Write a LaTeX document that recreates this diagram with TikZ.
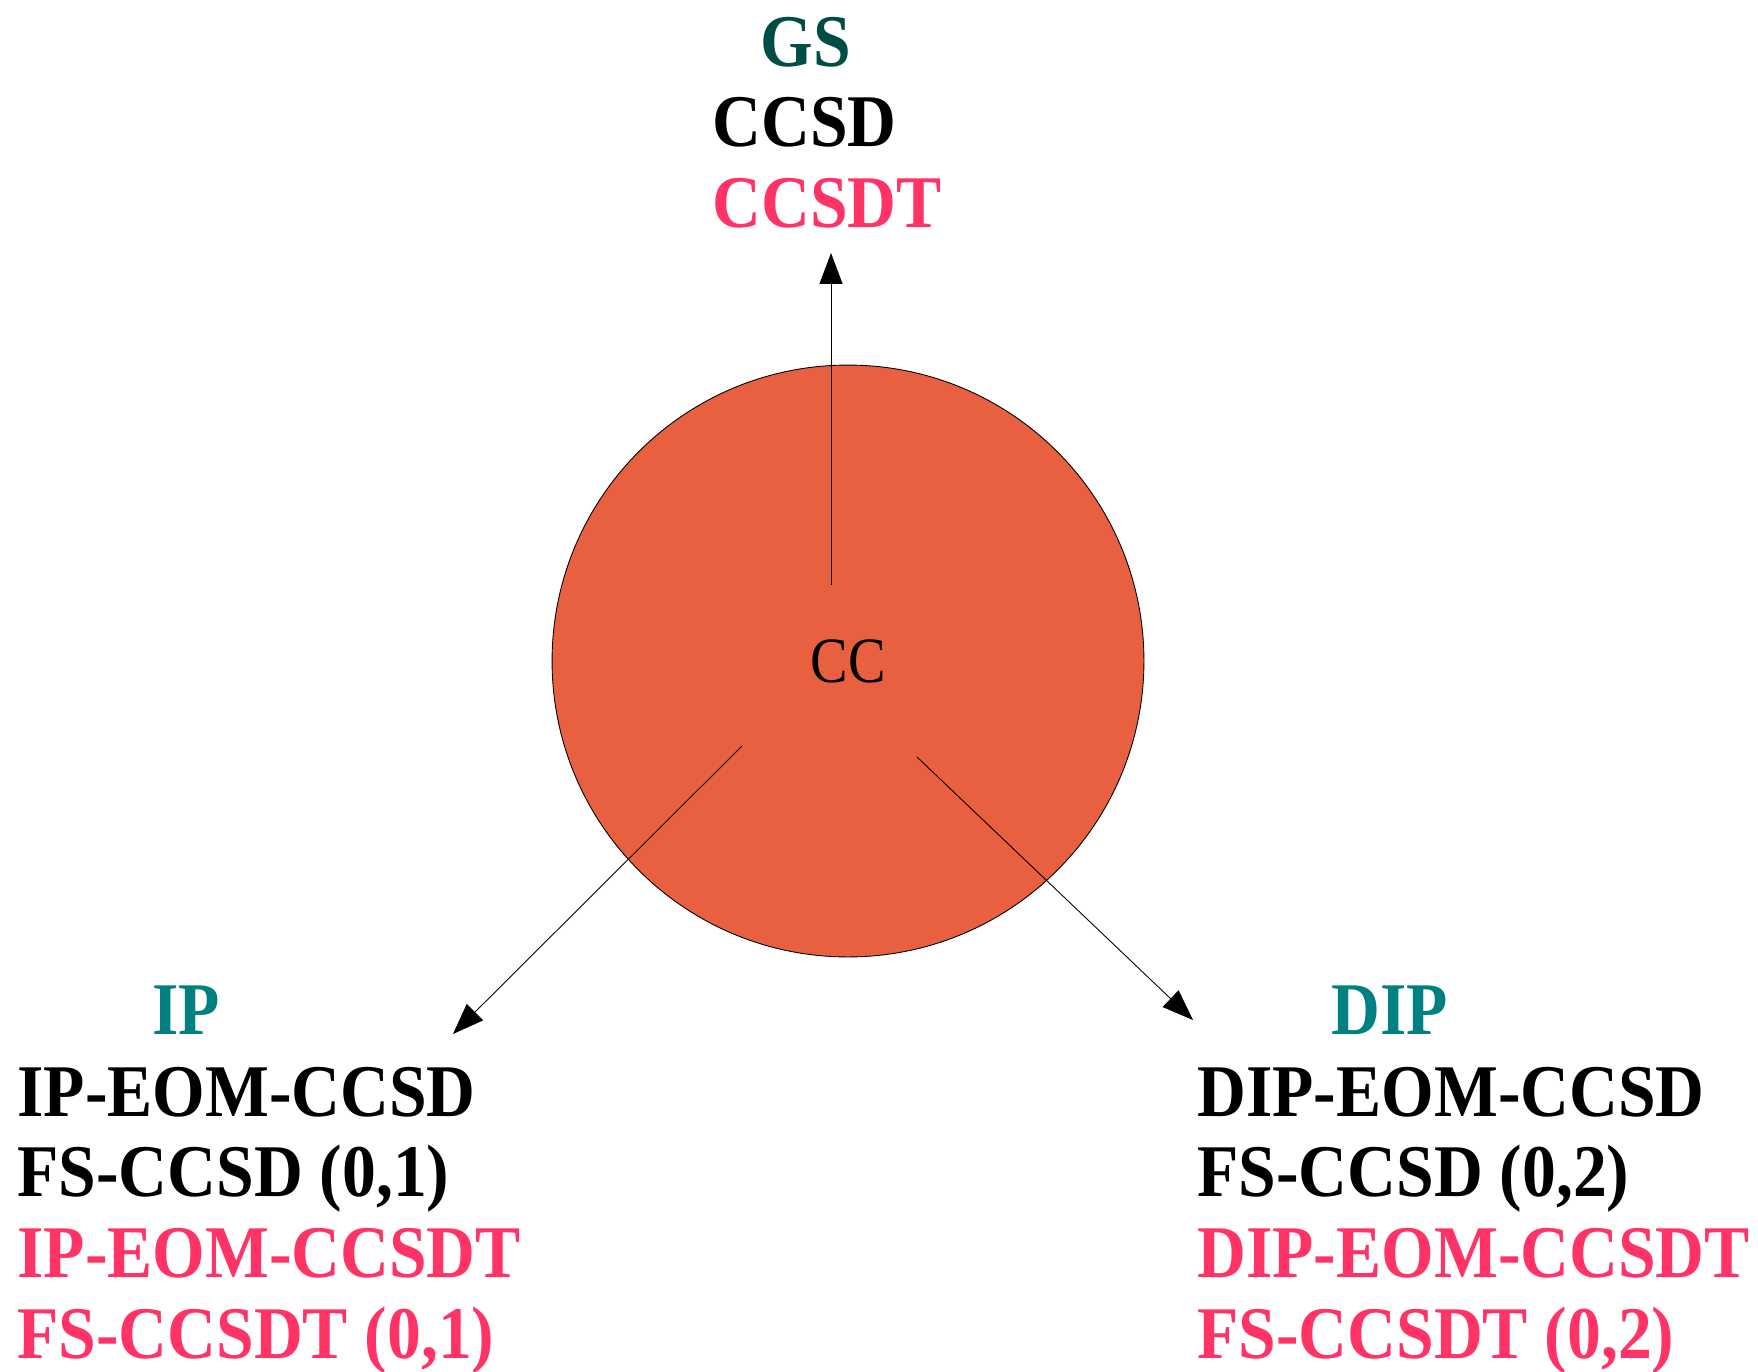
\documentclass[tikz,border=0pt]{standalone}
\usepackage{fontspec}
\setmainfont{Liberation Serif}[FakeStretch=0.91]
\newfontfamily\ccfont{Liberation Serif}[FakeStretch=0.87]
\usepackage{tikz}
\usetikzlibrary{arrows.meta,positioning}
\definecolor{ccfill}{RGB}{233,96,64}
\definecolor{gsteal}{RGB}{0,77,72}
\definecolor{ipteal}{RGB}{0,128,128}
\definecolor{triplepink}{RGB}{255,51,102}
\tikzstyle{every node}=[inner sep=0pt]
\tikzstyle{cc}=[circle,
                draw=black,
                fill=ccfill,
                minimum size=11.84cm,
                font=\ccfont\fontsize{36.8}{42}\selectfont]
\tikzstyle{method}=[anchor=base west,
                    font=\bfseries\fontsize{42.3}{50}\selectfont]
\tikzstyle{header}=[method,
                    anchor=base]
\tikzstyle{doubles}=[method,text=black]
\tikzstyle{triples}=[method,text=triplepink]

\begin{document}
\begin{tikzpicture}[x=0.02cm,y=-0.02cm,line width=.5pt,>={Triangle[length=6.2mm,width=4.6mm]}]
\useasboundingbox (0,0) rectangle (1758,1372);
\node (CC) [cc] at (848,661) {CC};
% ground state
\node (GS)   [header,text=gsteal] at (806,67) {GS};
\node (GS_1) [doubles] at (712,147) {CCSD};
\node (GS_2) [below=1.62cm of GS_1.base west,triples] {CCSDT};
% ionized
\node (IP)   [header,text=ipteal] at (186,1034) {IP};
\node (IP_1) [doubles] at (17,1116) {IP-EOM-CCSD};
\node (IP_2) [below=1.62cm of IP_1.base west,doubles] {FS-CCSD (0,1)};
\node (IP_3) [below=1.62cm of IP_2.base west,triples] {IP-EOM-CCSDT};
\node (IP_4) [below=1.62cm of IP_3.base west,triples] {FS-CCSDT (0,1)};
% doubly ionized
\node (DIP)   [header,text=ipteal] at (1390,1034) {DIP};
\node (DIP_1) [doubles] at (1197,1116) {DIP-EOM-CCSD};
\node (DIP_2) [below=1.62cm of DIP_1.base west,doubles] {FS-CCSD (0,2)};
\node (DIP_3) [below=1.62cm of DIP_2.base west,triples] {DIP-EOM-CCSDT};
\node (DIP_4) [below=1.62cm of DIP_3.base west,triples] {FS-CCSDT (0,2)};
\coordinate (gs_from)  at (831,585);
\coordinate (gs_to)    at (831,253);
\coordinate (ip_from)  at (742,746);
\coordinate (ip_to)    at (453,1034);
\coordinate (dip_from) at (917,757);
\coordinate (dip_to)   at (1193,1020);
 \path[->] (gs_from) edge (gs_to);
 \path[->] (ip_from) edge (ip_to);
 \path[->] (dip_from) edge (dip_to);
\end{tikzpicture}
\end{document}
